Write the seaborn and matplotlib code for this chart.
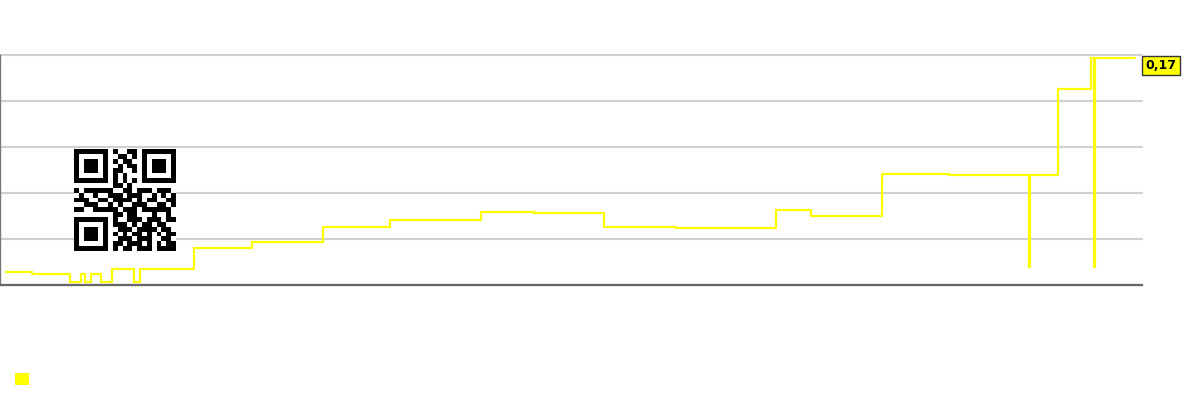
import numpy as np
import pandas as pd
import matplotlib
matplotlib.use("Agg")
import matplotlib.pyplot as plt
from matplotlib.patches import Patch
import seaborn as sns

# ---- data (step change points) ----
days = [0, 26, 64, 75, 79, 85, 95, 106, 128, 134, 188, 246, 317, 384, 475, 528,
        598, 670, 770, 805, 876, 943, 1023, 1024, 1052, 1085, 1088, 1089, 1129]
values = [0.0572, 0.0560, 0.0516, 0.0560, 0.0516, 0.0560, 0.0516, 0.0589, 0.0516,
          0.0589, 0.0703, 0.0735, 0.0817, 0.0852, 0.0898, 0.0893, 0.0817, 0.0810,
          0.0909, 0.0877, 0.1105, 0.1099, 0.0599, 0.1099, 0.1564, 0.1732, 0.0599,
          0.1732, 0.1732]
y_ticks = [0.05, 0.075, 0.1, 0.125, 0.15, 0.175]
last_label = "0,17"

qr_rows = [
    "111111101001101111111",
    "100000100110101000001",
    "101110101011001011101",
    "101110100101101011101",
    "101110101100101011101",
    "100000101010001000001",
    "111111101010101111111",
    "000000001101000000000",
    "101111110011011101110",
    "010010011101110010101",
    "111001101111010110011",
    "001110010100111001101",
    "110011111011101111110",
    "000000001101100010010",
    "111111101001110111011",
    "100000101110101101100",
    "101110100111011110110",
    "101110101010110101011",
    "101110100111011100110",
    "100000101101110101011",
    "111111101011011101111",
]

df = pd.DataFrame({"day": days, "value": values})

sns.set_style("white")
fig = plt.figure(figsize=(12, 4), dpi=100)
ax = fig.add_axes([0.0, 115 / 400, 1142 / 1200, 230 / 400])

sns.lineplot(data=df, x="day", y="value", ax=ax, color="#ffff00", linewidth=1.6,
             drawstyle="steps-post", estimator=None, sort=False, legend=False)

ax.set_xlim(-6, 1136)
ax.set_ylim(y_ticks[0], y_ticks[-1])
ax.set_yticks(y_ticks)
ax.set_yticklabels([])
ax.set_xticks([])
ax.tick_params(length=0)
ax.set_xlabel("")
ax.set_ylabel("")
ax.grid(axis="y", color="#d0d0d0", linewidth=1.5)
for gl in ax.get_ygridlines():
    gl.set_clip_on(False)
ax.set_axisbelow(True)
for s in ["top", "right"]:
    ax.spines[s].set_visible(False)
ax.spines["left"].set_color("#777777")
ax.spines["left"].set_linewidth(1)
ax.spines["bottom"].set_color("#666666")
ax.spines["bottom"].set_linewidth(1.6)

# last value label
ax.annotate(last_label, xy=(1.0, values[-1]), xycoords=("axes fraction", "data"),
            xytext=(2.6, -5), textcoords="offset points", ha="left", va="center",
            fontsize=9, fontweight="bold", color="black",
            bbox=dict(boxstyle="square,pad=0.25", facecolor="#ffff00",
                      edgecolor="#333333", linewidth=1),
            annotation_clip=False)

# QR watermark
qr = np.array([[int(c) for c in r] for r in qr_rows])
qax = fig.add_axes([74 / 1200, (400 - 251) / 400, 102 / 1200, 102 / 400])
qax.imshow(qr, cmap="gray_r", interpolation="nearest", aspect="auto")
qax.axis("off")

# legend (color square only)
fig.legend(handles=[Patch(facecolor="#ffff00", edgecolor="none")], labels=[""],
           loc="lower left", bbox_to_anchor=(15 / 1200, 13 / 400), frameon=False,
           handlelength=1.0, handleheight=1.0, borderpad=0, borderaxespad=0,
           handletextpad=0, fontsize=10)

fig.savefig("out.png", dpi=100)
